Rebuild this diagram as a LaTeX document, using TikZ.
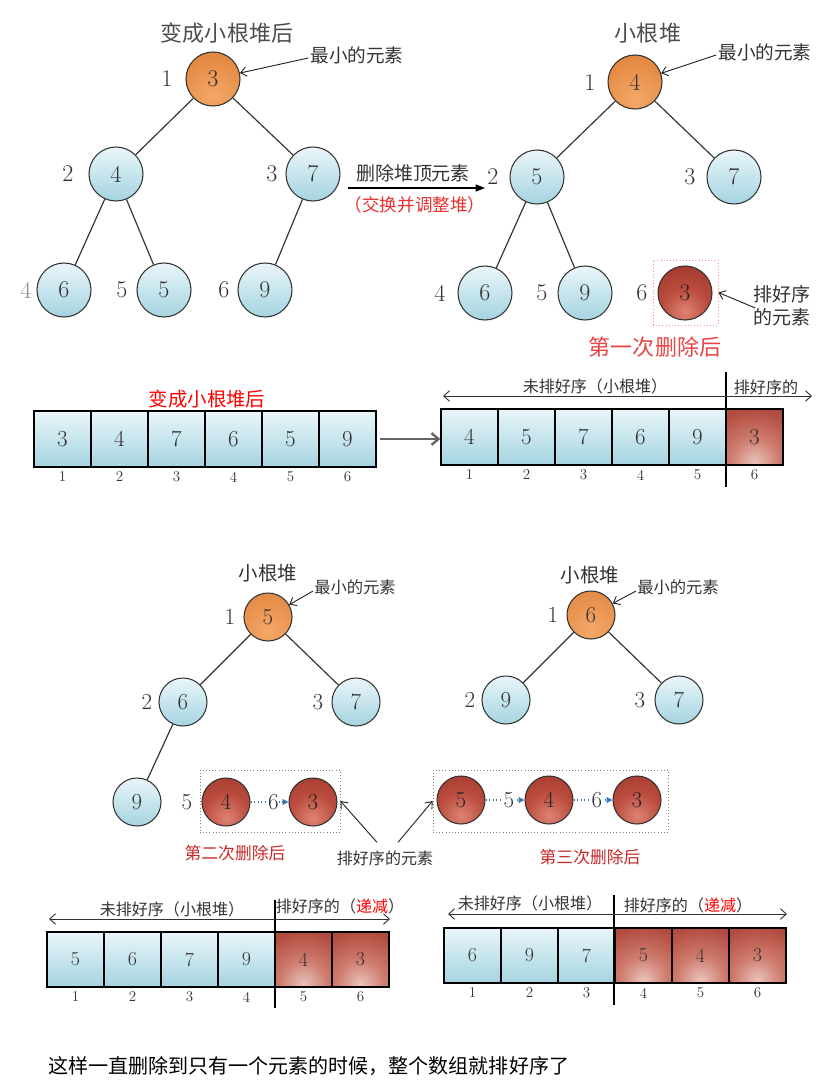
\documentclass[tikz,border=0pt]{standalone}
\usepackage{fontspec}
\newfontfamily\cjk{Noto Sans CJK SC}
\usetikzlibrary{arrows.meta,calc}
\definecolor{ink}{HTML}{333333}
\definecolor{bluetop}{HTML}{EAF6FA}
\definecolor{bluebot}{HTML}{A4D4E0}
\definecolor{orgin}{HTML}{F4A868}
\definecolor{orgout}{HTML}{D8742A}
\definecolor{redout}{HTML}{7E2419}
\definecolor{redcout}{HTML}{7E3026}
\definecolor{arrblue}{HTML}{3A78B0}
\definecolor{txtred}{HTML}{E83030}
\definecolor{darkred}{HTML}{C82828}
\pgfdeclareradialshading{redball}{\pgfpoint{0bp}{0bp}}{%
  color(0bp)=(rgb,255:red,222;green,130;blue,114);
  color(12bp)=(rgb,255:red,186;green,76;blue,62);
  color(30bp)=(rgb,255:red,150;green,48;blue,37);
  color(50bp)=(rgb,255:red,122;green,34;blue,25)}
\pgfdeclareradialshading{redcell}{\pgfpoint{0bp}{0bp}}{%
  color(0bp)=(rgb,255:red,234;green,194;blue,186);
  color(10bp)=(rgb,255:red,206;green,124;blue,110);
  color(22bp)=(rgb,255:red,178;green,76;blue,64);
  color(40bp)=(rgb,255:red,142;green,54;blue,44);
  color(50bp)=(rgb,255:red,126;green,48;blue,38)}
\tikzset{
  ball/.style={circle, draw=ink, line width=0.9pt, inner sep=0pt, minimum size=1.62cm, text=ink, font=\fontsize{20.5pt}{20.5pt}\selectfont},
  bball/.style={ball, top color=bluetop, bottom color=bluebot},
  oball/.style={ball, fill=orgout, path picture={\shade[inner color=orgin, outer color=orgout] ($(path picture bounding box.south)+(0,-10)$) circle (2.0cm);}},
  rball/.style={ball, fill=redout, text=black!85, path picture={\shade[shading=redball] ($(path picture bounding box.south)+(0,-8)$) circle (1.5cm);}},
  smallball/.style={minimum size=1.44cm, font=\fontsize{19.6pt}{19.6pt}\selectfont},
  lab/.style={text=ink, inner sep=0pt, font=\fontsize{20.5pt}{20.5pt}\selectfont},
  smalllab/.style={lab, font=\fontsize{19.6pt}{19.6pt}\selectfont},
  cn/.style={inner sep=0pt, text=ink, font={\cjk\fontsize{#1}{#1}\selectfont}},
  tline/.style={draw=ink, line width=1pt},
  ptr/.style={draw=black!85, line width=0.8pt, -{Straight Barb[length=5pt,width=8pt]}},
  bigarr/.style={draw=black, line width=1.1pt, -{Triangle[length=8pt,width=6pt]}},
  grayarr/.style={draw=black!60, line width=2pt, -{Straight Barb[length=6pt,width=10pt]}},
  dblarr/.style={draw=ink, line width=0.8pt, {Straight Barb[length=5pt,width=9pt]}-{Straight Barb[length=5pt,width=9pt]}},
  darr/.style={draw=arrblue, dotted, line width=1pt, -{Triangle[length=5pt,width=5pt]}},
  dbox/.style={rectangle, draw=black!50, dotted, line width=0.7pt, inner sep=0pt},
  cell/.style={rectangle, draw=black, line width=1.1pt, inner sep=0pt, minimum width=1.71cm, minimum height=1.68cm, text=ink, font=\fontsize{19.6pt}{19.6pt}\selectfont},
  bcell/.style={cell, top color=bluetop, bottom color=bluebot},
  rcell/.style={cell, fill=redcout, path picture={\shade[shading=redcell] ($(path picture bounding box.south)+(0,-3)$) circle (1.8cm);}},
  smallcell/.style={minimum height=1.65cm, font=\fontsize{17pt}{17pt}\selectfont},
  idx/.style={text=ink, inner sep=0pt, font=\fontsize{12.8pt}{12.8pt}\selectfont},
  vsep/.style={draw=black, line width=0.9pt},
}
\begin{document}
\begin{tikzpicture}[x=0.03cm,y=-0.03cm]
\useasboundingbox[fill=white] (0,0) rectangle (836,1092);

% ---------------- Tree 1 (top left)
\node[cn=18.8pt, text=black!70] (title1) at (227,33) {变成小根堆后};
\node[oball] (t1a) at (213,79) {3};
\node[bball] (t1b) at (116,174) {4};
\node[bball] (t1c) at (313,174) {7};
\node[bball] (t1d) at (64,290) {6};
\node[bball] (t1e) at (164,290) {5};
\node[bball] (t1f) at (265,290) {9};
\draw[tline] (t1a) -- (t1b);
\draw[tline] (t1a) -- (t1c);
\draw[tline] (t1b) -- (t1d);
\draw[tline] (t1b) -- (t1e);
\draw[tline] (t1c) -- (t1f);
\node[lab] (l1a) at (167,79) {1};
\node[lab] (l1b) at (68,174) {2};
\node[lab] (l1c) at (272,174) {3};
\node[lab, text=black!45] (l1d) at (26,290) {4};
\node[lab] (l1e) at (122,290) {5};
\node[lab] (l1f) at (224,290) {6};
\node[cn=15.9pt] (min1) at (357,55) {最小的元素};
\draw[ptr] ($(min1.west)+(-2,3)$) -- (t1a);

% middle arrow
\node[cn=16.2pt] (del) at (413,173) {删除堆顶元素};
\coordinate (ma1) at (348,188);
\coordinate (ma2) at (485,188);
\draw[bigarr] (ma1) -- (ma2);
\node[cn=15pt, text=txtred] (swap) at (415,205) {（交换并调整堆）};

% ---------------- Tree 2 (top right)
\node[cn=18.8pt, text=black!70] (title2) at (648,33) {小根堆};
\node[oball] (t2a) at (635,82) {4};
\node[bball] (t2b) at (537,177) {5};
\node[bball] (t2c) at (734,177) {7};
\node[bball] (t2d) at (485,293) {6};
\node[bball] (t2e) at (585,293) {9};
\node[rball] (t2f) at (685,293) {3};
\draw[tline] (t2a) -- (t2b);
\draw[tline] (t2a) -- (t2c);
\draw[tline] (t2b) -- (t2d);
\draw[tline] (t2b) -- (t2e);
\node[lab] (l2a) at (590,83) {1};
\node[lab] (l2b) at (493,177) {2};
\node[lab] (l2c) at (690,177) {3};
\node[lab] (l2d) at (440,293) {4};
\node[lab] (l2e) at (542,293) {5};
\node[lab] (l2f) at (642,293) {6};
\node[cn=15.9pt] (min2) at (765,52) {最小的元素};
\draw[ptr] ($(min2.west)+(-2,3)$) -- (t2a);
\node[dbox, draw=red!45, minimum width=1.95cm, minimum height=1.95cm] (box1) at (685.5,292.5) {};
\node[cn=16.2pt, align=left, font={\cjk\fontsize{16.2pt}{19.6pt}\selectfont}] (st1) at (782,306) {排好序\\的元素};
\draw[ptr] ($(st1.west)+(2,2)$) -- (box1.east);
\node[cn=18.8pt, text=txtred!90] (first) at (655,347) {第一次删除后};

% ---------------- Array row 1
\node[cn=16.6pt, text=red] (rt1) at (207,399) {变成小根堆后};
\foreach \v [count=\i] in {3,4,7,6,5,9} {
  \node[bcell] (la\i) at ({34+57*\i-28.5},439) {\v};
  \node[idx] (lai\i) at ({34+57*\i-28.5},477) {\i};
}
\foreach \v [count=\i] in {4,5,7,6,9} {
  \node[bcell] (ra\i) at ({441+57*\i-28.5},437) {\v};
}
\node[rcell] (ra6) at ({441+57*6-28.5},437) {3};
\foreach \i in {1,...,6} {
  \node[idx] (rai\i) at ({441+57*\i-28.5},475) {\i};
}
\draw[grayarr] ([xshift=3pt]la6.east) -- (ra1.west |- la6.east);
\coordinate (rv1) at (726,372);
\coordinate (rv2) at (726,487);
\draw[vsep] (rv1) -- (rv2);
\coordinate (rd1) at (443,396);
\coordinate (rd2) at (812,396);
\draw[dblarr] (rd1) -- (rd2);
\node[cn=13.7pt] (un1) at (595,386) {未排好序（小根堆）};
\node[cn=13.7pt] (so1) at (766,387) {排好序的};

% ---------------- Tree 3 (middle left)
\node[cn=16.6pt] (title3) at (268,573) {小根堆};
\node[oball, smallball] (t3a) at (268,617) {5};
\node[bball, smallball] (t3b) at (183,702) {6};
\node[bball, smallball] (t3c) at (356,702) {7};
\node[bball, smallball] (t3d) at (137,802) {9};
\node[rball, smallball] (t3e) at (226,802) {4};
\node[rball, smallball] (t3f) at (313,802) {3};
\draw[tline] (t3a) -- (t3b);
\draw[tline] (t3a) -- (t3c);
\draw[tline] (t3b) -- (t3d);
\node[smalllab] (l3a) at (230,617) {1};
\node[smalllab] (l3b) at (147,702) {2};
\node[smalllab] (l3c) at (318,702) {3};
\node[smalllab] (l3e) at (187,802) {5};
\draw[darr] (t3e) -- node[pos=0.6, fill=white, inner sep=0.5pt, text=ink, font=\fontsize{19.6pt}{19.6pt}\selectfont] {6} (t3f);
\node[cn=13.9pt] (min3) at (355,587) {最小的元素};
\draw[ptr] ($(min3.west)+(-1,4)$) -- (t3a);
\node[dbox, minimum width=4.2cm, minimum height=1.86cm] (box2) at (270,801) {};
\node[dbox, minimum width=7.05cm, minimum height=1.86cm] (box3) at (550.5,801) {};
\node[cn=14.3pt, text=darkred] (second) at (235,853) {第二次删除后};
\node[cn=13.7pt] (st2) at (385,858) {排好序的元素};
\draw[ptr] ($(st2.north)+(-8,-8)$) -- (box2.east);
\draw[ptr] ($(st2.north)+(13,-8)$) -- (box3.west);

% ---------------- Tree 4 (middle right)
\node[cn=16.6pt] (title4) at (590,575) {小根堆};
\node[oball, smallball] (t4a) at (591,615) {6};
\node[bball, smallball] (t4b) at (506,700) {9};
\node[bball, smallball] (t4c) at (679,700) {7};
\node[rball, smallball] (t4d) at (461,800) {5};
\node[rball, smallball] (t4e) at (549,800) {4};
\node[rball, smallball] (t4f) at (637,800) {3};
\draw[tline] (t4a) -- (t4b);
\draw[tline] (t4a) -- (t4c);
\node[smalllab] (l4a) at (553,615) {1};
\node[smalllab] (l4b) at (470,700) {2};
\node[smalllab] (l4c) at (640,700) {3};
\draw[darr] (t4d) -- node[pos=0.6, fill=white, inner sep=0.5pt, text=ink, font=\fontsize{19.6pt}{19.6pt}\selectfont] {5} (t4e);
\draw[darr] (t4e) -- node[pos=0.6, fill=white, inner sep=0.5pt, text=ink, font=\fontsize{19.6pt}{19.6pt}\selectfont] {6} (t4f);
\node[cn=13.9pt] (min4) at (678,587) {最小的元素};
\draw[ptr] ($(min4.west)+(-1,4)$) -- (t4a);
\node[cn=14.3pt, text=darkred] (third) at (590,857) {第三次删除后};

% ---------------- Bottom arrays
\foreach \v [count=\i] in {5,6,7,9} {
  \node[bcell, smallcell] (ba\i) at ({47+57*\i-28.5},959.5) {\v};
}
\node[rcell, smallcell] (ba5) at ({47+57*5-28.5},959.5) {4};
\node[rcell, smallcell] (ba6) at ({47+57*6-28.5},959.5) {3};
\foreach \i in {1,...,6} {
  \node[idx] (bai\i) at ({47+57*\i-28.5},997) {\i};
}
\coordinate (bv1) at (275,900);
\coordinate (bv2) at (275,1008);
\draw[vsep] (bv1) -- (bv2);
\coordinate (bd1) at (49,919);
\coordinate (bd2) at (390,919);
\draw[dblarr] (bd1) -- (bd2);
\node[cn=13.7pt] (un2) at (172,909) {未排好序（小根堆）};
\node[cn=13.7pt] (so2) at (340,906) {排好序的（\textcolor{red}{递减}）};

\foreach \v [count=\i] in {6,9,7} {
  \node[bcell, smallcell] (bb\i) at ({444+57*\i-28.5},955.5) {\v};
}
\node[rcell, smallcell] (bb4) at ({444+57*4-28.5},955.5) {5};
\node[rcell, smallcell] (bb5) at ({444+57*5-28.5},955.5) {4};
\node[rcell, smallcell] (bb6) at ({444+57*6-28.5},955.5) {3};
\foreach \i in {1,...,6} {
  \node[idx] (bbi\i) at ({444+57*\i-28.5},993) {\i};
}
\coordinate (cv1) at (614,895);
\coordinate (cv2) at (614,1005);
\draw[vsep] (cv1) -- (cv2);
\coordinate (cd1) at (448,914);
\coordinate (cd2) at (787,914);
\draw[dblarr] (cd1) -- (cd2);
\node[cn=13.7pt] (un3) at (530,903) {未排好序（小根堆）};
\node[cn=13.7pt] (so3) at (688,905) {排好序的（\textcolor{red}{递减}）};

% ---------------- Bottom sentence
\node[cn=17.1pt, anchor=west, text=black] (final) at (48,1066) {这样一直删除到只有一个元素的时候，整个数组就排好序了};
\end{tikzpicture}
\end{document}
